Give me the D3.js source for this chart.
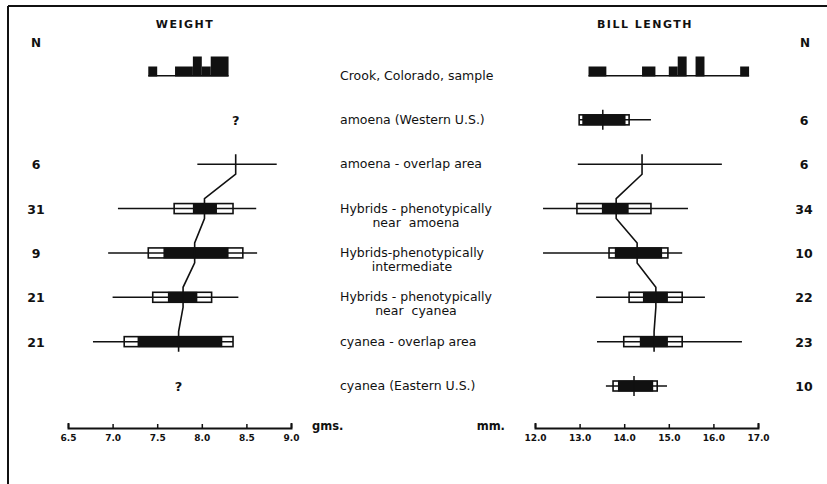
<!DOCTYPE html>
<html>
<head>
<meta charset="utf-8">
<script src="https://cdn.jsdelivr.net/npm/d3@7"></script>
<style>
  body { margin: 0; background: #fff; }
  text { font-family: "DejaVu Sans", sans-serif; fill: #111; }
</style>
</head>
<body>
<script>
// rows, top to bottom
var groups = [
  ["Crook, Colorado, sample"],
  ["amoena (Western U.S.)"],
  ["amoena - overlap area"],
  ["Hybrids - phenotypically", "near  amoena"],
  ["Hybrids-phenotypically", "intermediate"],
  ["Hybrids - phenotypically", "near  cyanea"],
  ["cyanea - overlap  area"],
  ["cyanea (Eastern U.S.)"]
];

var nWeight = [null, null, 6, 31, 9, 21, 21, null];
var nBill = [null, 6, 6, 34, 10, 22, 23, 10];

// weight, gms.
var weightMean = [null, null, 8.38, 8.03, 7.92, 7.79, 7.74, null];
var weightRange = [null, null, [7.95, 8.84], [7.06, 8.61], [6.95, 8.62], [7.0, 8.41], [6.78, 8.35], null];
var weightSD = [null, null, null, [7.69, 8.35], [7.4, 8.46], [7.45, 8.11], [7.13, 8.35], null];
var weightSE = [null, null, null, [7.9, 8.17], [7.57, 8.3], [7.62, 7.95], [7.28, 8.23], null];
var weightUnknown = [1, 7]; // rows marked "?"

// bill length, mm.
var billMean = [null, 13.52, 14.4, 13.82, 14.29, 14.71, 14.67, 14.22];
var billRange = [null, [12.99, 14.6], [12.96, 16.19], [12.18, 15.43], [12.18, 15.3], [13.37, 15.81], [13.39, 16.64], [13.59, 14.96]];
var billSD = [null, [12.99, 14.11], null, [12.94, 14.6], [13.66, 14.98], [14.11, 15.3], [13.99, 15.3], [13.75, 14.74]];
var billSE = [null, [13.06, 14.03], null, [13.5, 14.1], [13.79, 14.85], [14.42, 14.98], [14.35, 14.98], [13.86, 14.65]];

var linked = [2, 3, 4, 5, 6]; // means joined by the line

// Crook sample histograms: [from, to, count]
var crookWeight = [[7.4, 7.5, 1], [7.7, 7.9, 1], [7.9, 8.0, 2], [8.0, 8.1, 1], [8.1, 8.3, 2]];
var crookBill = [[13.2, 13.6, 1], [14.4, 14.7, 1], [15.0, 15.2, 1], [15.2, 15.4, 2], [15.6, 15.8, 2], [16.6, 16.8, 1]];

var weightTicks = [6.5, 7.0, 7.5, 8.0, 8.5, 9.0];
var billTicks = [12, 13, 14, 15, 16, 17];

var W = 827, H = 484;
var svg = d3.select("body").append("svg").attr("width", W).attr("height", H);

// frame, top and left only as in the scan
svg.append("line").attr("x1", 8).attr("x2", W).attr("y1", 6).attr("y2", 6)
  .attr("stroke", "#111").attr("stroke-width", 2);
svg.append("line").attr("x1", 8).attr("x2", 8).attr("y1", 6).attr("y2", H)
  .attr("stroke", "#111").attr("stroke-width", 2);

var y = d3.scaleLinear().domain([0, 7]).range([75.5, 386]);
var xw = d3.scaleLinear().domain([6.5, 9.0]).range([68, 291]);
var xb = d3.scaleLinear().domain([12, 17]).range([535, 758]);
var hCount = d3.scaleLinear().domain([0, 2]).range([0, 20]);

// titles
svg.append("text").attr("x", 185).attr("y", 28).attr("text-anchor", "middle")
  .style("font-size", "11px").style("font-weight", "bold").style("letter-spacing", "1.5px").text("WEIGHT");
svg.append("text").attr("x", 645).attr("y", 28).attr("text-anchor", "middle")
  .style("font-size", "11px").style("font-weight", "bold").style("letter-spacing", "1.5px").text("BILL LENGTH");
svg.append("text").attr("x", 36).attr("y", 47).attr("text-anchor", "middle")
  .style("font-size", "12px").style("font-weight", "bold").text("N");
svg.append("text").attr("x", 805).attr("y", 47).attr("text-anchor", "middle")
  .style("font-size", "12px").style("font-weight", "bold").text("N");

// row labels
groups.forEach(function (g, i) {
  var t = svg.append("text").attr("x", 340).attr("y", y(i) + 4)
    .style("font-size", "12.5px").text(g[0]);
  if (g.length > 1) {
    var w = t.node().getComputedTextLength();
    svg.append("text").attr("x", 340 + w / 2).attr("y", y(i) + 18)
      .attr("text-anchor", "middle").style("font-size", "12.5px")
      .style("white-space", "pre").text(g[1]);
  }
});

// sample sizes
function drawN(arr, x) {
  svg.selectAll(null).data(arr.map(function (d, i) { return [d, i]; }).filter(function (d) { return d[0] != null; }))
    .enter().append("text")
    .attr("x", x).attr("y", function (d) { return y(d[1]) + 5; })
    .attr("text-anchor", "middle")
    .style("font-size", "12.5px").style("font-weight", "bold")
    .text(function (d) { return d[0]; });
}
drawN(nWeight, 36);
drawN(nBill, 804);

function histogram(bins, x) {
  var base = y(0) + 1;
  svg.append("line")
    .attr("x1", x(bins[0][0])).attr("x2", x(bins[bins.length - 1][1]))
    .attr("y1", base - 0.7).attr("y2", base - 0.7)
    .attr("stroke", "#111").attr("stroke-width", 1.4);
  svg.selectAll(null).data(bins).enter().append("rect")
    .attr("x", function (d) { return x(d[0]); })
    .attr("width", function (d) { return x(d[1]) - x(d[0]); })
    .attr("y", function (d) { return base - hCount(d[2]); })
    .attr("height", function (d) { return hCount(d[2]); })
    .attr("fill", "#111");
}
histogram(crookWeight, xw);
histogram(crookBill, xb);

function diagram(x, mean, range, sd, se) {
  var g = svg.append("g");
  mean.forEach(function (m, i) {
    if (m == null) return;
    var yc = y(i);
    if (sd[i]) {
      g.append("rect").attr("x", x(sd[i][0])).attr("width", x(sd[i][1]) - x(sd[i][0]))
        .attr("y", yc - 5).attr("height", 10)
        .attr("fill", "#fff").attr("stroke", "#111").attr("stroke-width", 1.6);
    }
    g.append("line").attr("x1", x(range[i][0])).attr("x2", x(range[i][1]))
      .attr("y1", yc).attr("y2", yc).attr("stroke", "#111").attr("stroke-width", 1.5);
    if (se[i]) {
      g.append("rect").attr("x", x(se[i][0])).attr("width", x(se[i][1]) - x(se[i][0]))
        .attr("y", yc - 5.5).attr("height", 11).attr("fill", "#111");
    }
    if (linked.indexOf(i) < 0) {
      g.append("line").attr("x1", x(m)).attr("x2", x(m))
        .attr("y1", yc - 10).attr("y2", yc + 10)
        .attr("stroke", "#111").attr("stroke-width", 1.5);
    }
  });
  var pts = [];
  linked.forEach(function (i) {
    pts.push([x(mean[i]), y(i) - 10]);
    pts.push([x(mean[i]), y(i) + 10]);
  });
  g.append("path").attr("d", d3.line()(pts))
    .attr("fill", "none").attr("stroke", "#111").attr("stroke-width", 1.6);
}
diagram(xw, weightMean, weightRange, weightSD, weightSE);
diagram(xb, billMean, billRange, billSD, billSE);

// "?" where weight is unknown, placed under the neighbouring mean
weightUnknown.forEach(function (i) {
  var m = weightMean[i + 1] != null ? weightMean[i + 1] : weightMean[i - 1];
  svg.append("text").attr("x", xw(m)).attr("y", y(i) + 5).attr("text-anchor", "middle")
    .style("font-size", "13px").style("font-weight", "bold").text("?");
});

// axes
function axis(x, ticks, unit, ux, anchor) {
  var ay = 428;
  var a = d3.axisBottom(x).tickValues(ticks).tickSize(-4).tickSizeOuter(-5)
    .tickPadding(7).tickFormat(d3.format(".1f"));
  var g = svg.append("g").attr("transform", "translate(0," + ay + ")").call(a);
  g.select(".domain").attr("stroke", "#111").attr("stroke-width", 2);
  g.selectAll(".tick line").attr("stroke", "#111").attr("stroke-width", 1.5);
  g.selectAll(".tick text").style("font-family", "DejaVu Sans, sans-serif")
    .style("font-size", "9px").style("font-weight", "bold").attr("fill", "#111");
  svg.append("text").attr("x", ux).attr("y", ay + 2).attr("text-anchor", anchor)
    .style("font-size", "11.5px").style("font-weight", "bold").text(unit);
}
axis(xw, weightTicks, "gms.", 312, "start");
axis(xb, billTicks, "mm.", 505, "end");
</script>
</body>
</html>
